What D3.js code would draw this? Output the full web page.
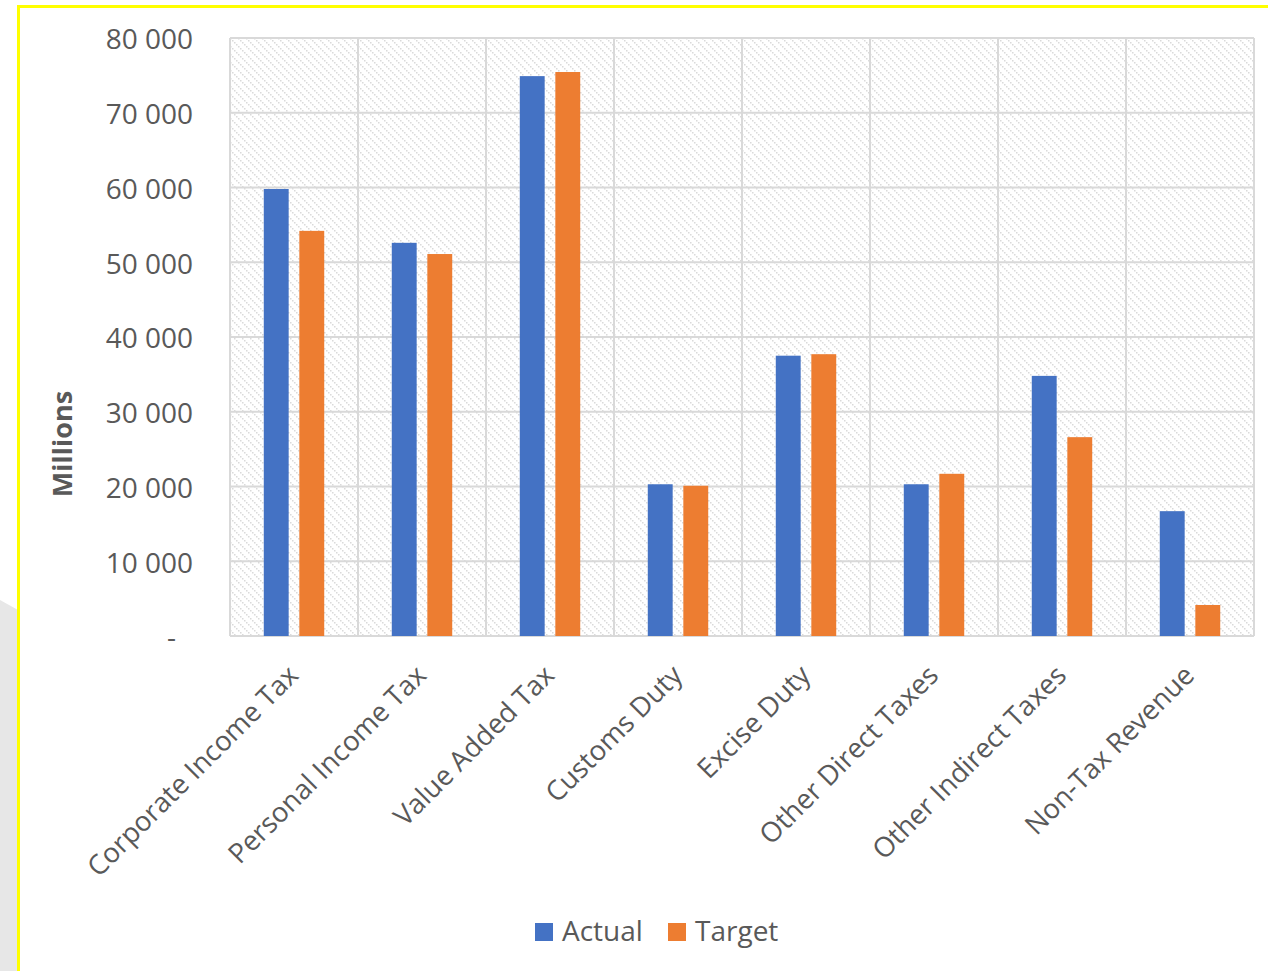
<!DOCTYPE html>
<html>
<head>
<meta charset="utf-8">
<script src="https://cdn.jsdelivr.net/npm/d3@7"></script>
<style>
  html, body { margin: 0; padding: 0; background: #fff; }
  svg { display: block; }
  text { font-family: "Open Sans", "Liberation Sans", sans-serif; fill: #595959; }
</style>
</head>
<body>
<svg id="chart" width="1268" height="971"></svg>
<script>
const categories = ["Corporate Income Tax", "Personal Income Tax", "Value Added Tax", "Customs Duty", "Excise Duty", "Other Direct Taxes", "Other Indirect Taxes", "Non-Tax Revenue"];
const seriesNames = ["Actual", "Target"];
const actual = [59800, 52600, 74900, 20300, 37500, 20300, 34800, 16700];
const target = [54200, 51100, 75450, 20100, 37700, 21700, 26600, 4150];
const yTicks = [0, 10000, 20000, 30000, 40000, 50000, 60000, 70000, 80000];
const colors = ["#4472C4", "#ED7D31"];

const svg = d3.select("#chart");
const W = 1268, H = 971;

// decorative frame
svg.append("path").attr("d", "M0,600 L18,610 L18,971 L0,971 Z").attr("fill", "#e7e7e7");
svg.append("path").attr("d", `M18.5,971 L18.5,6.5 L${W},6.5`).attr("fill", "none").attr("stroke", "#ffff00").attr("stroke-width", 3);

const m = { left: 230, right: 1254, top: 38, bottom: 636 };

const defs = svg.append("defs");
const pat = defs.append("pattern").attr("id", "hatch").attr("patternUnits", "userSpaceOnUse")
  .attr("width", 8).attr("height", 8);
pat.append("rect").attr("width", 8).attr("height", 8).attr("fill", "#ffffff");
[0, 2, 4, 6].forEach(i => {
  pat.append("rect").attr("x", i).attr("y", i).attr("width", 1.5).attr("height", 1.5).attr("fill", "#dadada");
});

const x = d3.scaleBand().domain(categories).range([m.left, m.right]).paddingInner(0).paddingOuter(0);
const y = d3.scaleLinear().domain([0, 80000]).range([m.bottom, m.top]);
const xs = d3.scaleBand().domain(seriesNames).range([0, x.bandwidth()]).paddingInner(0.3).paddingOuter(0.95);

// plot background
svg.append("rect").attr("x", m.left).attr("y", m.top).attr("width", m.right - m.left).attr("height", m.bottom - m.top)
  .attr("fill", "url(#hatch)");

// gridlines
const grid = svg.append("g").attr("stroke", "#d9d9d9").attr("stroke-width", 2);
yTicks.forEach(t => {
  grid.append("line").attr("x1", m.left).attr("x2", m.right).attr("y1", y(t)).attr("y2", y(t));
});
categories.forEach(c => {
  grid.append("line").attr("x1", x(c)).attr("x2", x(c)).attr("y1", m.top).attr("y2", m.bottom);
});
grid.append("line").attr("x1", m.right).attr("x2", m.right).attr("y1", m.top).attr("y2", m.bottom);

// y axis
const yAxis = d3.axisLeft(y).tickValues(yTicks).tickSize(0).tickPadding(0)
  .tickFormat(d => d === 0 ? "-" : d3.format(",")(d).replace(/,/g, " "));
const ya = svg.append("g").attr("transform", `translate(${m.left - 37},0)`).call(yAxis);
ya.select(".domain").remove();
ya.selectAll("text").attr("font-size", 28).attr("fill", "#595959").attr("font-family", "'Open Sans', sans-serif")
  .attr("y", 2)
  .attr("dx", d => d === 0 ? -17 : 0);

// bars
const data = categories.map((c, i) => ({ c, vals: [actual[i], target[i]] }));
const groups = svg.append("g").selectAll("g").data(data).join("g").attr("transform", d => `translate(${x(d.c)},0)`);
groups.selectAll("rect").data(d => d.vals.map((v, j) => ({ s: seriesNames[j], v, j })))
  .join("rect")
  .attr("x", d => xs(d.s)).attr("width", xs.bandwidth())
  .attr("y", d => y(d.v)).attr("height", d => y(0) - y(d.v))
  .attr("fill", d => colors[d.j]);

// x axis labels
const xAxis = d3.axisBottom(x).tickSize(0).tickPadding(0);
const xa = svg.append("g").attr("transform", `translate(0,${m.bottom})`).call(xAxis);
xa.select(".domain").remove();
xa.selectAll("text").attr("font-size", 27.5).attr("fill", "#595959").attr("font-family", "'Open Sans', sans-serif")
  .attr("text-anchor", "end").attr("dy", 0).attr("y", 0)
  .attr("transform", "translate(6,41) rotate(-45)");

// y title
svg.append("text").attr("transform", `translate(72,444) rotate(-90)`).attr("text-anchor", "middle")
  .attr("font-size", 27).attr("font-weight", "bold").text("Millions");

// legend
const legend = svg.append("g");
const lx = [535, 668];
seriesNames.forEach((s, i) => {
  legend.append("rect").attr("x", lx[i]).attr("y", 923).attr("width", 18).attr("height", 18).attr("fill", colors[i]);
  legend.append("text").attr("x", lx[i] + 27).attr("y", 941).attr("font-size", 28).text(s);
});
</script>
</body>
</html>
